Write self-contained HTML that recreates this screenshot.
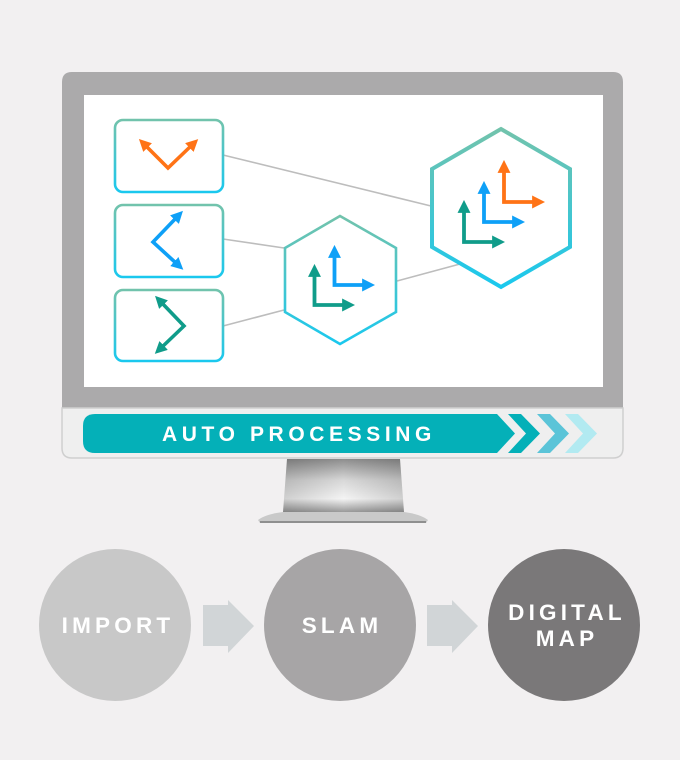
<!DOCTYPE html>
<html><head><meta charset="utf-8"><style>
html,body{margin:0;padding:0;background:#f2f0f1;}
svg{display:block}
text{font-family:"Liberation Sans",sans-serif;font-weight:bold;fill:#fff}
</style></head><body>
<svg width="680" height="760" viewBox="0 0 680 760" xmlns="http://www.w3.org/2000/svg">
<defs>
<linearGradient id="hg" x1="0" y1="0" x2="0" y2="1"><stop offset="0" stop-color="#72c3ac"/><stop offset="1" stop-color="#1ac8ee"/></linearGradient>
<linearGradient id="st" x1="0" y1="0" x2="0" y2="1"><stop offset="0" stop-color="#8e8e8e"/><stop offset="0.4" stop-color="#d8d8d8"/><stop offset="0.75" stop-color="#f4f4f4"/><stop offset="1" stop-color="#9a9a9a"/></linearGradient>
<linearGradient id="sth" x1="0" y1="0" x2="1" y2="0"><stop offset="0" stop-color="#000" stop-opacity="0.15"/><stop offset="0.5" stop-color="#000" stop-opacity="0"/><stop offset="1" stop-color="#000" stop-opacity="0.15"/></linearGradient>
<marker id="mo" viewBox="0 0 10 10" refX="3" refY="5" markerWidth="3.4" markerHeight="3.4" orient="auto-start-reverse"><path d="M0,0L10,5L0,10z" fill="#ff7316"/></marker>
<marker id="mb" viewBox="0 0 10 10" refX="3" refY="5" markerWidth="3.4" markerHeight="3.4" orient="auto-start-reverse"><path d="M0,0L10,5L0,10z" fill="#0ea0f7"/></marker>
<marker id="mg" viewBox="0 0 10 10" refX="3" refY="5" markerWidth="3.4" markerHeight="3.4" orient="auto-start-reverse"><path d="M0,0L10,5L0,10z" fill="#109c8a"/></marker>
</defs>
<rect width="680" height="760" fill="#f2f0f1"/>
<!-- monitor -->
<path d="M62,82 Q62,72 72,72 H613 Q623,72 623,82 V410 H62Z" fill="#abaaab"/>
<path d="M62,408 H623 V448 Q623,458 613,458 H72 Q62,458 62,448Z" fill="#efefef" stroke="#cfcfcf" stroke-width="1.5"/>
<rect x="84" y="95" width="519" height="292" fill="#fff"/>
<!-- stand -->
<path d="M287,459 H400 L404,512 H283Z" fill="url(#st)"/>
<path d="M287,459 H400 L404,512 H283Z" fill="url(#sth)"/>
<path d="M283,512 H404 Q420,514 428,520 L426,523 H260 L258,520 Q266,514 283,512Z" fill="#c9c9c9"/>
<rect x="260" y="521" width="166" height="2" fill="#8f8f8f"/>
<!-- bar -->
<path d="M95,414 H497 L515,433.5 L497,453 H95 Q83,453 83,441 V426 Q83,414 95,414Z" fill="#04b0b8"/>
<path d="M508,414 H521 L540,433.5 L521,453 H508 L526,433.5Z" fill="#04b0b8"/>
<path d="M537,414 H550 L569,433.5 L550,453 H537 L555,433.5Z" fill="#5bc4d8"/>
<path d="M565,414 H578 L597,433.5 L578,453 H565 L583,433.5Z" fill="#b2eaf1"/>
<text x="299" y="441" font-size="21" text-anchor="middle" letter-spacing="4.6">AUTO PROCESSING</text>
<!-- connectors -->
<g stroke="#bdbdbd" stroke-width="1.6">
<line x1="223" y1="155" x2="431" y2="206"/>
<line x1="223" y1="239" x2="284" y2="248"/>
<line x1="223" y1="326" x2="284" y2="310"/>
<line x1="397" y1="281" x2="460" y2="264"/>
</g>
<!-- boxes -->
<g fill="#fff" stroke="url(#hg)" stroke-width="2.6">
<rect x="115" y="120" width="108" height="72" rx="8"/>
<rect x="115" y="205" width="108" height="72" rx="8"/>
<rect x="115" y="290" width="108" height="71" rx="8"/>
</g>
<g fill="none" stroke-width="3.6">
<polyline points="145,145 168,168 192,145" stroke="#ff7316" marker-start="url(#mo)" marker-end="url(#mo)"/>
<polyline points="177,217 153,242 177,264" stroke="#0ea0f7" marker-start="url(#mb)" marker-end="url(#mb)"/>
<polyline points="161,302 184,326 161,348" stroke="#109c8a" marker-start="url(#mg)" marker-end="url(#mg)"/>
</g>
<!-- hexagons -->
<polygon points="340,216 396,248 396,312 340,344 285,312 285,248" fill="#fff" stroke="url(#hg)" stroke-width="2.6"/>
<polygon points="501,129 570,169 570,247 501,287 432,247 432,169" fill="#fff" stroke="url(#hg)" stroke-width="4"/>
<g fill="none" stroke-width="3.8">
<polyline points="334.5,254 334.5,285 366,285" stroke="#0ea0f7" marker-start="url(#mb)" marker-end="url(#mb)"/>
<polyline points="314.5,273 314.5,305 346,305" stroke="#109c8a" marker-start="url(#mg)" marker-end="url(#mg)"/>
<polyline points="504,169 504,202 536,202" stroke="#ff7316" marker-start="url(#mo)" marker-end="url(#mo)"/>
<polyline points="484,190 484,222 516,222" stroke="#0ea0f7" marker-start="url(#mb)" marker-end="url(#mb)"/>
<polyline points="464,209 464,242 496,242" stroke="#109c8a" marker-start="url(#mg)" marker-end="url(#mg)"/>
</g>
<!-- bottom flow -->
<ellipse cx="115" cy="625" rx="76" ry="76" fill="#c8c8c8"/>
<ellipse cx="340" cy="625" rx="76" ry="76" fill="#a7a5a6"/>
<ellipse cx="564" cy="625" rx="76" ry="76" fill="#7a7879"/>
<path d="M203,605 H228 V600 L254,626 L228,653 V646 H203Z" fill="#d1d5d7"/>
<path d="M427,605 H452 V600 L478,626 L452,653 V646 H427Z" fill="#d1d5d7"/>
<g font-size="22.5" text-anchor="middle" letter-spacing="4.2">
<text x="118" y="633">IMPORT</text>
<text x="342" y="633">SLAM</text>
<text x="567" y="620">DIGITAL</text>
<text x="567" y="646">MAP</text>
</g>
</svg>
</body></html>
